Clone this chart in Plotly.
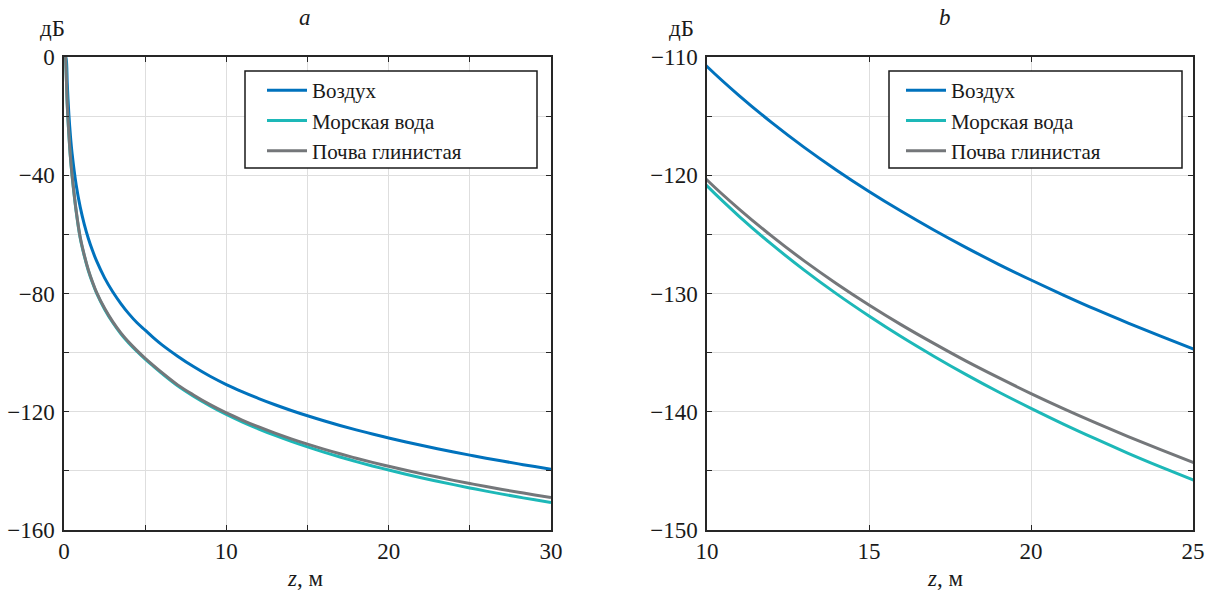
import plotly.graph_objects as go

# Distance z, m
z = [0.1, 0.15, 0.2, 0.3, 0.4, 0.5, 0.75, 1, 1.25, 1.5, 1.75, 2, 2.5, 3, 3.5, 4, 4.5, 5, 5.5, 6,
     7, 8, 9, 10, 11, 12, 13, 14, 15, 16, 17, 18, 19, 20, 21, 22, 23, 24, 25, 26, 27, 28, 29, 30]

air = [0, -1.4, -8.9, -19.4, -26.9, -32.7, -43.3, -50.8, -56.6, -61.4, -65.4, -68.9, -74.7,
       -79.4, -83.4, -86.9, -89.9, -92.4, -94.9, -97.2, -101.2, -104.8, -108.0, -110.8,
       -113.28, -115.55, -117.64, -119.57, -121.37, -123.05, -124.63, -126.12, -127.53,
       -128.86, -130.13, -131.35, -132.5, -133.61, -134.68, -135.7, -136.68, -137.63,
       -138.54, -139.43]

sea_water = [0, -8.0, -16.2, -26.3, -34.3, -40.3, -52.3, -61.3, -67.3, -72.3, -76.3, -79.8,
             -85.3, -89.8, -93.6, -96.8, -99.6, -102.2, -104.6, -106.9, -111.2, -114.8,
             -118.0, -120.9, -123.49, -125.85, -128.02, -130.03, -131.9, -133.66, -135.3,
             -136.86, -138.33, -139.71, -141.04, -142.3, -143.51, -144.66, -145.77, -146.84,
             -147.86, -148.85, -149.8, -150.72]

clay_soil = [0, -8.0, -16.0, -26.0, -34.0, -40.0, -52.0, -61.0, -67.0, -72.0, -76.0, -79.5,
             -85.0, -89.5, -93.3, -96.5, -99.3, -101.9, -104.3, -106.6, -110.9, -114.4,
             -117.6, -120.4, -122.88, -125.15, -127.24, -129.17, -130.97, -132.65, -134.22,
             -135.72, -137.12, -138.46, -139.73, -140.94, -142.1, -143.21, -144.28, -145.3,
             -146.28, -147.23, -148.14, -149.0]

names = ["Воздух", "Морская вода", "Почва глинистая"]
series = [air, sea_water, clay_soil]
colors = ["#0072BD", "#1DB8B8", "#74777A"]

W, H = 1211, 590
FONT = "Liberation Serif"

fig = go.Figure()
for axis_suffix, leg in [("", "legend"), ("2", "legend2")]:
    for name, vals, col in zip(names, series, colors):
        fig.add_trace(go.Scatter(
            x=z, y=vals, mode="lines", name=name,
            line=dict(color=col, width=3, shape="spline", smoothing=1.0),
            xaxis="x" + axis_suffix, yaxis="y" + axis_suffix, legend=leg,
        ))

def px_x(p):
    return p / W

def px_y(p):
    return 1 - p / H

axis_common = dict(
    showline=True, linecolor="#262626", linewidth=1.5, mirror="ticks",
    ticks="inside", ticklen=5, tickcolor="#262626", tickwidth=1.2,
    showgrid=True, gridcolor="#DEDEDE", gridwidth=1, zeroline=False,
    automargin=False,
    tickfont=dict(family=FONT, size=23, color="#1a1a1a"),
)
minor_common = dict(showgrid=True, gridcolor="#DEDEDE", ticks="inside",
                    ticklen=5, tickcolor="#262626")

legend_common = dict(xanchor="left", yanchor="top",
                     borderwidth=0, bgcolor="rgba(0,0,0,0)",
                     font=dict(family=FONT, size=21, color="#1a1a1a"),
                     tracegroupgap=0, itemwidth=40)

fig.update_layout(
    width=W, height=H,
    paper_bgcolor="white", plot_bgcolor="white",
    margin=dict(l=0, r=0, t=0, b=0, autoexpand=False),
    font=dict(family=FONT, color="#1a1a1a"),
    xaxis=dict(domain=[px_x(64), px_x(551)], range=[0, 30], dtick=10, tick0=0,
               minor=dict(dtick=5, **minor_common), anchor="y", **axis_common),
    yaxis=dict(domain=[px_y(530), px_y(57)], range=[-160, 0], dtick=40, tick0=0,
               minor=dict(dtick=20, **minor_common), anchor="x",
               ticklabelstandoff=3, **axis_common),
    xaxis2=dict(domain=[px_x(707), px_x(1193)], range=[10, 25], dtick=5, tick0=0,
                anchor="y2", **axis_common),
    yaxis2=dict(domain=[px_y(530), px_y(57)], range=[-150, -110], dtick=10, tick0=0,
                minor=dict(dtick=5, **minor_common), anchor="x2",
                ticklabelstandoff=3, **axis_common),
    legend=dict(x=px_x(262), y=px_y(70), **legend_common),
    legend2=dict(x=px_x(901), y=px_y(70), **legend_common),
    showlegend=True,
)

# legend frames
for x0, x1 in [(245, 537), (889, 1182)]:
    fig.add_shape(type="rect", xref="paper", yref="paper",
                  x0=px_x(x0), x1=px_x(x1), y0=px_y(168), y1=px_y(71),
                  line=dict(color="#1a1a1a", width=1.5), fillcolor="white", layer="above")

annotations = [
    dict(text="дБ", x=px_x(52), y=px_y(28)),
    dict(text="дБ", x=px_x(681), y=px_y(28)),
    dict(text="<i>a</i>", x=px_x(305), y=px_y(18)),
    dict(text="<i>b</i>", x=px_x(945), y=px_y(18)),
    dict(text="<i>z</i>, м", x=px_x(305), y=px_y(578)),
    dict(text="<i>z</i>, м", x=px_x(945), y=px_y(578)),
]
for a in annotations:
    fig.add_annotation(xref="paper", yref="paper", showarrow=False,
                       xanchor="center", yanchor="middle",
                       font=dict(family=FONT, size=23, color="#1a1a1a"), **a)

fig.write_html("out.html", config={"displayModeBar": False},
               post_script="document.body.style.margin='0px';document.body.style.overflow='hidden';")
